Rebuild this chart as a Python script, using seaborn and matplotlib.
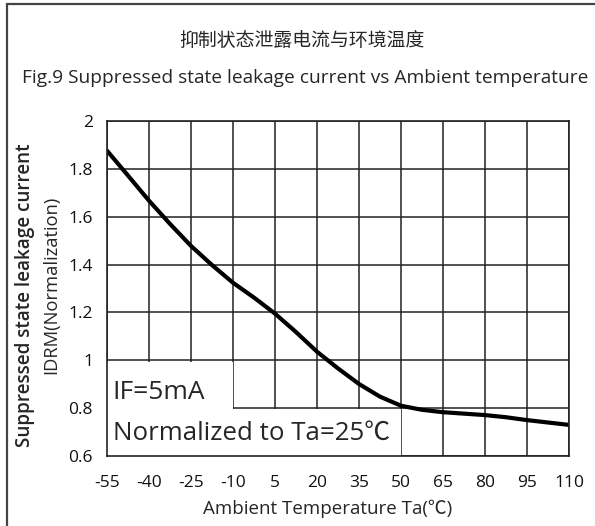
import matplotlib
matplotlib.use("Agg")
import matplotlib.pyplot as plt
from matplotlib.patches import Rectangle
import seaborn as sns
import pandas as pd

# ---- data ----
temperature = [-55, -47.5, -40, -32.5, -25, -17.5, -10, -2.5, 5, 12.5, 20, 27.5,
               35, 42.5, 50, 57.5, 65, 72.5, 80, 87.5, 95, 102.5, 110]
leakage = [1.876, 1.772, 1.667, 1.570, 1.478, 1.398, 1.324, 1.262, 1.195, 1.118,
           1.036, 0.966, 0.901, 0.848, 0.810, 0.793, 0.783, 0.777, 0.771, 0.762,
           0.750, 0.740, 0.730]
x_ticks = [-55, -40, -25, -10, 5, 20, 35, 50, 65, 80, 95, 110]
y_ticks = [0.6, 0.8, 1.0, 1.2, 1.4, 1.6, 1.8, 2.0]
y_tick_labels = ["0.6", "0.8", "1", "1.2", "1.4", "1.6", "1.8", "2"]

title_cn = "抑制状态泄露电流与环境温度"
title_en = "Fig.9 Suppressed state leakage current vs Ambient temperature"
ylabel_1 = "Suppressed state leakage current"
ylabel_2 = "IDRM(Normalization)"
xlabel = "Ambient Temperature Ta(℃)"
note_1 = "IF=5mA"
note_2 = "Normalized to Ta=25℃"

df = pd.DataFrame({"T": temperature, "I": leakage})

sns.set_style("white")
plt.rcParams["font.family"] = ["Open Sans", "Noto Sans CJK SC", "DejaVu Sans"]
plt.rcParams["axes.unicode_minus"] = False

fig = plt.figure(figsize=(5.95, 5.26), dpi=100)
ax = fig.add_axes([107 / 595, 1 - 456 / 526, (569 - 107) / 595, (456 - 121) / 526])

grid_color = "#222222"
ax.set_axisbelow(True)
ax.grid(True, color=grid_color, linewidth=1.1)

# white panels hiding grid behind the notes
ax.add_patch(Rectangle((-55, 0.6), 45, 0.393, facecolor="white", edgecolor="none", zorder=1))
ax.add_patch(Rectangle((-55, 0.6), 105, 0.195, facecolor="white", edgecolor="none", zorder=1))

sns.lineplot(data=df, x="T", y="I", ax=ax, color="black", linewidth=3.0, zorder=3)

ax.set_xlim(-55, 110)
ax.set_ylim(0.6, 2.0)
ax.set_xticks(x_ticks)
ax.set_xticklabels([str(t) for t in x_ticks])
ax.set_yticks(y_ticks)
ax.set_yticklabels(y_tick_labels)
ax.tick_params(axis="both", length=0, labelsize=12.5, colors="#111111")
ax.tick_params(axis="x", pad=14)
ax.tick_params(axis="y", pad=10)
for s in ax.spines.values():
    s.set_color(grid_color)
    s.set_linewidth(1.2)
    s.set_zorder(4)

ax.set_xlabel("")
ax.set_ylabel("")
fig.text(328 / 595, 1 - 509 / 526, xlabel, ha="center", va="center", fontsize=13.5)

fig.text(25 / 595, 1 - 295 / 526, ylabel_1, rotation=90, ha="center", va="center",
         fontsize=13.6, fontweight="semibold")
fig.text(51 / 595, 1 - 285 / 526, ylabel_2, rotation=90, ha="center", va="center",
         fontsize=13.2)

fig.text(302 / 595, 1 - 40 / 526, title_cn, ha="center", va="center", fontsize=13.6,
         family=["Noto Sans CJK SC", "DejaVu Sans"])
fig.text(305 / 595, 1 - 78 / 526, title_en, ha="center", va="center", fontsize=13.8)

ax.text(-53, 0.867, note_1, ha="left", va="center", fontsize=19, zorder=5)
ax.text(-53, 0.696, note_2, ha="left", va="center", fontsize=18.6, zorder=5)

# outer frame of the figure
fig.patches.append(Rectangle((7 / 595, -0.05), 1.2, 1 - 4 / 526 + 0.05,
                             transform=fig.transFigure, fill=False,
                             edgecolor="#444444", linewidth=1.6))

fig.savefig("out.png", dpi=100)
